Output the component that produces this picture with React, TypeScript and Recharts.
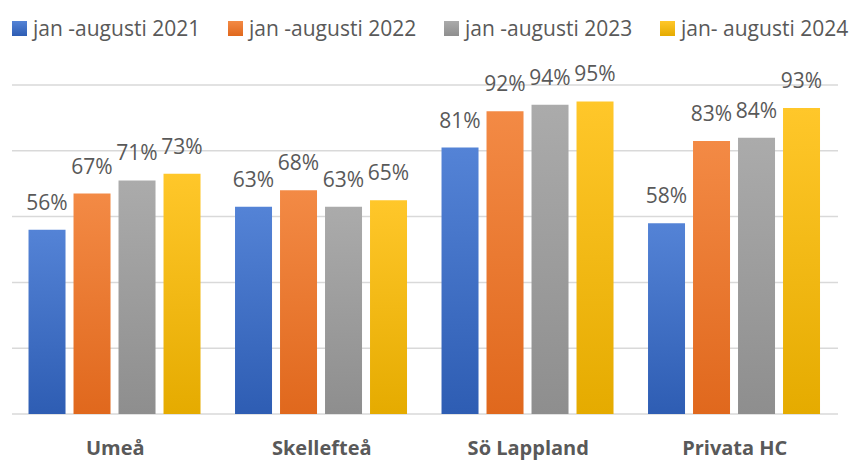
import React from "react";
import { BarChart, Bar, XAxis, YAxis, CartesianGrid, LabelList } from "recharts";

const categories = ["Umeå", "Skellefteå", "Sö Lappland", "Privata HC"];
const seriesNames = ["jan -augusti 2021", "jan -augusti 2022", "jan -augusti 2023", "jan- augusti 2024"];
const values2021 = [56, 63, 81, 58];
const values2022 = [67, 68, 92, 83];
const values2023 = [71, 63, 94, 84];
const values2024 = [73, 65, 95, 93];
const yTicks = [0, 20, 40, 60, 80, 100];

const seriesValues = [values2021, values2022, values2023, values2024];
const keys = ["s2021", "s2022", "s2023", "s2024"];
const gradients = [
  ["#5483d6", "#2e5db3"],
  ["#f38a45", "#e0681d"],
  ["#ababab", "#8e8e8e"],
  ["#ffc72a", "#e5ab00"],
];

const data = categories.map((c, i) => {
  const row: Record<string, any> = { name: c };
  keys.forEach((k, j) => {
    row[k] = seriesValues[j][i];
  });
  return row;
});

const TEXT = "#595959";
const FONT = "'Open Sans', sans-serif";

const XTick = (props: any) => {
  const { x, payload } = props;
  return (
    <text x={x} y={455} textAnchor="middle" fill={TEXT} fontFamily={FONT} fontWeight={700} fontSize={20}>
      {payload.value}
    </text>
  );
};

export default function App() {
  return (
    <div style={{ position: "absolute", left: 0, top: 0, width: 851, height: 461, background: "#fff", overflow: "hidden" }}>
      <div style={{ position: "absolute", top: 16, left: 0, height: 24, width: 851, fontFamily: FONT, fontSize: 21, color: TEXT }}>
        {seriesNames.map((n, i) => (
          <div key={n} style={{ position: "absolute", left: 12 + i * 216, top: 0, display: "flex", alignItems: "center", height: 24, whiteSpace: "nowrap" }}>
            <span style={{ display: "inline-block", width: 15, height: 15, marginRight: 6, background: `linear-gradient(${gradients[i][0]}, ${gradients[i][1]})` }} />
            <span>{n}</span>
          </div>
        ))}
      </div>
      <BarChart
        width={851}
        height={461}
        data={data}
        margin={{ top: 85, right: 13, bottom: 0, left: 12 }}
        barCategoryGap="8%"
        barGap={8}
      >
        <defs>
          {gradients.map((g, i) => (
            <linearGradient key={i} id={`grad${i}`} x1="0" y1="0" x2="0" y2="1">
              <stop offset="0%" stopColor={g[0]} />
              <stop offset="100%" stopColor={g[1]} />
            </linearGradient>
          ))}
        </defs>
        <CartesianGrid vertical={false} stroke="#d9d9d9" strokeWidth={1.5} />
        <YAxis hide domain={[0, 100]} ticks={yTicks} />
        <XAxis dataKey="name" axisLine={false} tickLine={false} height={47} tick={<XTick />} interval={0} />
        {keys.map((k, i) => (
          <Bar key={k} dataKey={k} name={seriesNames[i]} fill={`url(#grad${i})`} isAnimationActive={false}>
            <LabelList
              dataKey={k}
              position="top"
              offset={20}
              formatter={(v: any) => `${v}%`}
              style={{ fill: TEXT, fontFamily: FONT, fontSize: 21 }}
            />
          </Bar>
        ))}
      </BarChart>
    </div>
  );
}
